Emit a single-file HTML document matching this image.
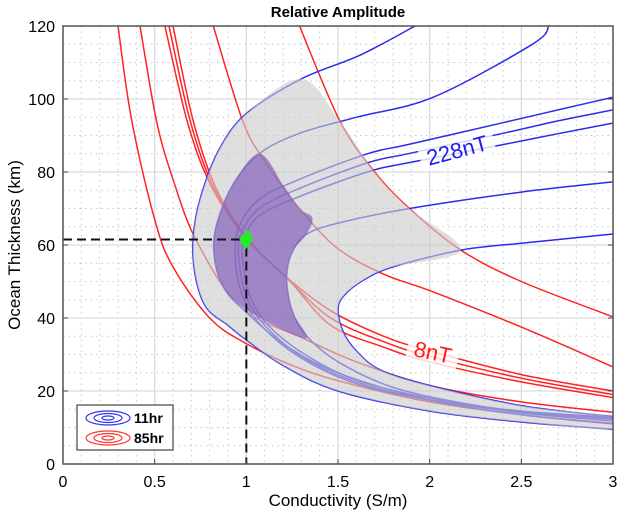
<!DOCTYPE html>
<html><head><meta charset="utf-8"><style>
body{margin:0;background:#fff;}
svg{display:block;font-family:"Liberation Sans",Arial,sans-serif;}
</style></head><body>
<svg id="chart" width="624" height="521" viewBox="0 0 624 521" xmlns="http://www.w3.org/2000/svg">
<defs><clipPath id="plotclip"><rect x="63" y="26" width="550" height="438"/></clipPath></defs>
<rect x="0" y="0" width="624" height="521" fill="#fff"/>
<text x="338" y="17" text-anchor="middle" font-size="15" font-weight="bold">Relative Amplitude</text>
<g id="grid"></g>
<g id="series" clip-path="url(#plotclip)"></g>
<g id="axes"></g>
<text x="338" y="506" text-anchor="middle" font-size="17">Conductivity (S/m)</text>
<text transform="translate(20,245) rotate(-90)" text-anchor="middle" font-size="17">Ocean Thickness (km)</text>
<g>
<rect x="77" y="405" width="96" height="45" fill="#fff" stroke="#444" stroke-width="1.2"/>
<g fill="none" stroke="#3333ee" stroke-width="1.2">
<ellipse cx="108" cy="418" rx="22" ry="7"/><ellipse cx="108" cy="418" rx="14" ry="4.5"/><ellipse cx="108" cy="418" rx="6" ry="2"/></g>
<text x="134" y="423" font-size="14" font-weight="bold">11hr</text>
<g fill="none" stroke="#ff3333" stroke-width="1.2">
<ellipse cx="108" cy="438" rx="22" ry="7"/><ellipse cx="108" cy="438" rx="14" ry="4.5"/><ellipse cx="108" cy="438" rx="6" ry="2"/></g>
<text x="134" y="443" font-size="14" font-weight="bold">85hr</text>
</g>
</svg>
<script>
// ---- data ----
const xTicks = [0, 0.5, 1, 1.5, 2, 2.5, 3];
const xTickLabels = ["0", "0.5", "1", "1.5", "2", "2.5", "3"];
const yTicks = [0, 20, 40, 60, 80, 100, 120];
const yTickLabels = ["0", "20", "40", "60", "80", "100", "120"];
const estimate = [1.0, 61.5];
// red (85hr) contours: [conductivity, thickness]
const red1 = [[0.30,120],[0.375,94],[0.5,67],[0.6,54],[0.8,40],[1.0,33],[1.3,26],[1.6,21.5],[2,17],[2.5,13.5],[3,11.2]];
const red2 = [[0.42,120],[0.51,94],[0.6,78],[0.73,61],[0.97,43],[1.33,34],[1.6,28],[2,21.5],[2.5,17],[3,14.2]];
const red3a = [[0.556,120],[0.677,94],[0.8,77],[0.98,63],[1.2,52],[1.46,42],[1.75,35],[2,31],[2.5,24.5],[3,20]];
const red3b = [[0.578,120],[0.694,94],[0.82,76],[1.0,62],[1.22,51],[1.46,40],[1.75,33.5],[2,29.5],[2.5,23.5],[3,19]];
const red3c = [[0.60,120],[0.71,94],[0.84,75],[1.02,61],[1.24,50],[1.46,38],[1.75,32],[2,28],[2.5,22.5],[3,18.2]];
const red4 = [[0.82,120],[0.98,94],[1.1,83],[1.29,70],[1.5,59],[1.75,52],[2,47.5],[2.5,37.5],[3,26.6]];
const red5 = [[1.29,120],[1.51,94],[1.7,80],[1.89,70],[2.17,58.6],[2.5,50],[3,40.3]];
// blue (11hr) contours
const blue1 = [[1.92,120],[1.62,112],[1.3,105.5],[1.0,96],[0.85,86],[0.75,73],[0.71,62],[0.72,52],[0.78,43],[0.9,38],[1.0,34],[1.2,27],[1.5,20],[2,14.5],[2.5,11.5],[3,9.5]];
const blue2 = [[2.65,120],[2.56,115],[2.02,100.5],[1.6,95],[1.29,90.6],[1.07,85],[0.92,76],[0.83,64],[0.83,55],[0.88,48],[0.98,42.5],[1.2,33],[1.5,25],[2,17.5],[2.5,13.5],[3,11]];
const blue3a = [[3,100.5],[2.7,97],[2.4,93.5],[1.88,87.5],[1.66,85],[1.29,78],[1.07,72.5],[0.96,65],[0.94,56],[0.98,46],[1.08,38],[1.3,29],[1.6,22],[2,17.5],[2.5,14.5],[3,12.8]];
const blue3b = [[3,97],[2.7,94],[2.4,90.6],[1.88,85],[1.66,82.5],[1.29,75.5],[1.07,70],[0.97,63],[0.96,56],[1.0,46],[1.1,38],[1.3,29.5],[1.6,22.5],[2,17.5],[2.5,14.2],[3,12.3]];
const blue3c = [[3,93.4],[2.7,90.5],[2.4,87.5],[1.88,82.5],[1.66,80],[1.29,73.3],[1.07,68],[0.99,62],[0.98,56],[1.02,46],[1.12,38],[1.32,30],[1.6,23],[2,18],[2.5,14],[3,11.8]];
const blue4 = [[3,77.3],[2.5,74.5],[1.89,70],[1.5,66],[1.33,63],[1.25,58],[1.22,51],[1.25,42],[1.33,35],[1.5,28],[1.8,21],[2.2,16.5],[2.6,13.8],[3,12.5]];
const blue5 = [[3,63],[2.5,60.5],[2.17,58.6],[1.8,54],[1.64,50.4],[1.53,46],[1.5,42],[1.53,36],[1.6,31],[1.73,25.8],[2,21.5],[2.5,16],[3,13]];
// shaded regions
const grayRegion = [[1.3,105.5],[1.0,96],[0.85,86],[0.75,73],[0.71,62],[0.72,52],[0.78,43],[0.9,38],[1.0,34],[1.2,27],[1.5,20],[2,14.5],[2.5,11.5],[3,9.5],[3,13],[2.5,16],[2,21.5],[1.73,25.8],[1.6,31],[1.53,36],[1.5,42],[1.53,46],[1.64,50.4],[1.8,54],[2.17,58.6],[1.89,70],[1.7,80],[1.51,94]];
const purpleRegion = [[1.07,85],[0.92,76],[0.83,64],[0.83,55],[0.88,48],[0.98,43],[1.15,38],[1.33,34.5],[1.25,42],[1.22,51],[1.25,58],[1.33,63],[1.36,67.5],[1.29,70],[1.2,76.5]];

// ---- axes ----
const X0 = 63, X1 = 613, Y0 = 464, Y1 = 26;
function sx(v){ return X0 + (v - 0) / 3 * (X1 - X0); }
function sy(v){ return Y0 - (v - 0) / 120 * (Y0 - Y1); }
const NS = "http://www.w3.org/2000/svg";
function mk(tag, attrs, parent){ const e = document.createElementNS(NS, tag); for (const k in attrs) e.setAttribute(k, attrs[k]); parent.appendChild(e); return e; }
function smooth(pts, closed){
  const p = pts.map(d => [sx(d[0]), sy(d[1])]);
  const n = p.length;
  let s = "M" + p[0][0].toFixed(1) + "," + p[0][1].toFixed(1);
  const last = closed ? n : n - 1;
  for (let i = 0; i < last; i++){
    const g = j => closed ? p[(j + n) % n] : p[Math.max(0, Math.min(n - 1, j))];
    const a = g(i - 1), b = g(i), c = g(i + 1), d = g(i + 2);
    const c1 = [b[0] + (c[0] - a[0]) / 6, b[1] + (c[1] - a[1]) / 6];
    const c2 = [c[0] - (d[0] - b[0]) / 6, c[1] - (d[1] - b[1]) / 6];
    s += "C" + c1[0].toFixed(1) + "," + c1[1].toFixed(1) + " " + c2[0].toFixed(1) + "," + c2[1].toFixed(1) + " " + c[0].toFixed(1) + "," + c[1].toFixed(1);
  }
  return closed ? s + "Z" : s;
}
const grid = document.getElementById("grid");
const series = document.getElementById("series");
const axes = document.getElementById("axes");
for (let i = 1; i < 30; i++){
  const x = sx(i / 10);
  const ln = mk("line", {x1:x, y1:Y1, x2:x, y2:Y0, stroke:"#c8c8c8", "stroke-width":1, "stroke-dasharray":"1.5,4"}, grid);
  
  
}
for (let i = 1; i < 24; i++){
  const y = sy(i * 5);
  const ln = mk("line", {x1:X0, y1:y, x2:X1, y2:y, stroke:"#c8c8c8", "stroke-width":1, "stroke-dasharray":"1.5,4"}, grid);
  
  
}
xTicks.forEach((v, i) => {
  const x = sx(v);
  const ln = mk("line", {x1:x, y1:Y1, x2:x, y2:Y0, stroke:"#dcdcdc", "stroke-width":1.3}, grid);
  
  
  const t = mk("text", {x:x, y:487, "text-anchor":"middle", "font-size":16}, axes);
  t.textContent = xTickLabels[i];
  
  
  const tk = mk("line", {x1:x, y1:Y0, x2:x, y2:Y0 - 5, stroke:"#444"}, axes);
  
  
});
yTicks.forEach((v, i) => {
  const y = sy(v);
  const ln = mk("line", {x1:X0, y1:y, x2:X1, y2:y, stroke:"#dcdcdc", "stroke-width":1.3}, grid);
  
  
  const t = mk("text", {x:55, y:y + 6, "text-anchor":"end", "font-size":16}, axes);
  t.textContent = yTickLabels[i];
  
  
  const tk = mk("line", {x1:X0, y1:y, x2:X0 + 5, y2:y, stroke:"#444"}, axes);
  
  
  const tk2 = mk("line", {x1:X1, y1:y, x2:X1 - 5, y2:y, stroke:"#444"}, axes);
  
  
});
const frame = mk("rect", {x:X0, y:Y1, width:X1 - X0, height:Y0 - Y1, fill:"none", stroke:"#555", "stroke-width":1.5}, axes);



const reds = [["red-contour-1", red1], ["red-contour-2", red2], ["red-contour-8nT-a", red3a], ["red-contour-8nT-b", red3b], ["red-contour-8nT-c", red3c], ["red-contour-4", red4], ["red-contour-5", red5]];
const blues = [["blue-contour-1", blue1], ["blue-contour-2", blue2], ["blue-contour-228nT-a", blue3a], ["blue-contour-228nT-b", blue3b], ["blue-contour-228nT-c", blue3c], ["blue-contour-4", blue4], ["blue-contour-5", blue5]];
reds.forEach(r => {
  const p = mk("path", {d:smooth(r[1], false), fill:"none", stroke:"#ff2222", "stroke-width":1.5}, series);
  
  
});
blues.forEach(b => {
  const p = mk("path", {d:smooth(b[1], false), fill:"none", stroke:"#2b2bec", "stroke-width":1.5}, series);
  
  
});
const gp = mk("path", {d:smooth(grayRegion, true), fill:"#cccccc", "fill-opacity":0.62, stroke:"none"}, series);


const pp = mk("path", {d:smooth(purpleRegion, true), fill:"#8360b8", "fill-opacity":0.7, stroke:"none"}, series);



const lb1 = mk("g", {transform:"translate(457,150) rotate(-15)"}, series);


mk("rect", {x:-38, y:-14, width:76, height:26, fill:"#fff", "fill-opacity":0.8}, lb1);
const t1 = mk("text", {x:0, y:8, "text-anchor":"middle", "font-size":22, fill:"#2020ee"}, lb1);
t1.textContent = "228nT";
const lb2 = mk("g", {transform:"translate(433,352) rotate(12)"}, series);


mk("rect", {x:-26, y:-14, width:52, height:26, fill:"#fff", "fill-opacity":0.8}, lb2);
const t2 = mk("text", {x:0, y:8, "text-anchor":"middle", "font-size":22, fill:"#ff1a1a"}, lb2);
t2.textContent = "8nT";

const hl = mk("line", {x1:X0, y1:sy(estimate[1]), x2:sx(estimate[0]) - 6, y2:sy(estimate[1]), stroke:"#111", "stroke-width":2, "stroke-dasharray":"9,5"}, series);


const vl = mk("line", {x1:sx(estimate[0]), y1:sy(estimate[1]) + 8, x2:sx(estimate[0]), y2:Y0, stroke:"#111", "stroke-width":2, "stroke-dasharray":"9,5"}, series);


const cx = sx(estimate[0]), cy = sy(estimate[1]);
const dm = mk("polygon", {points:(cx+1)+","+(cy-10)+" "+(cx+7)+","+(cy)+" "+(cx-1)+","+(cy+10)+" "+(cx-7)+","+(cy), fill:"#22ee22"}, series);


</script>
</body></html>
